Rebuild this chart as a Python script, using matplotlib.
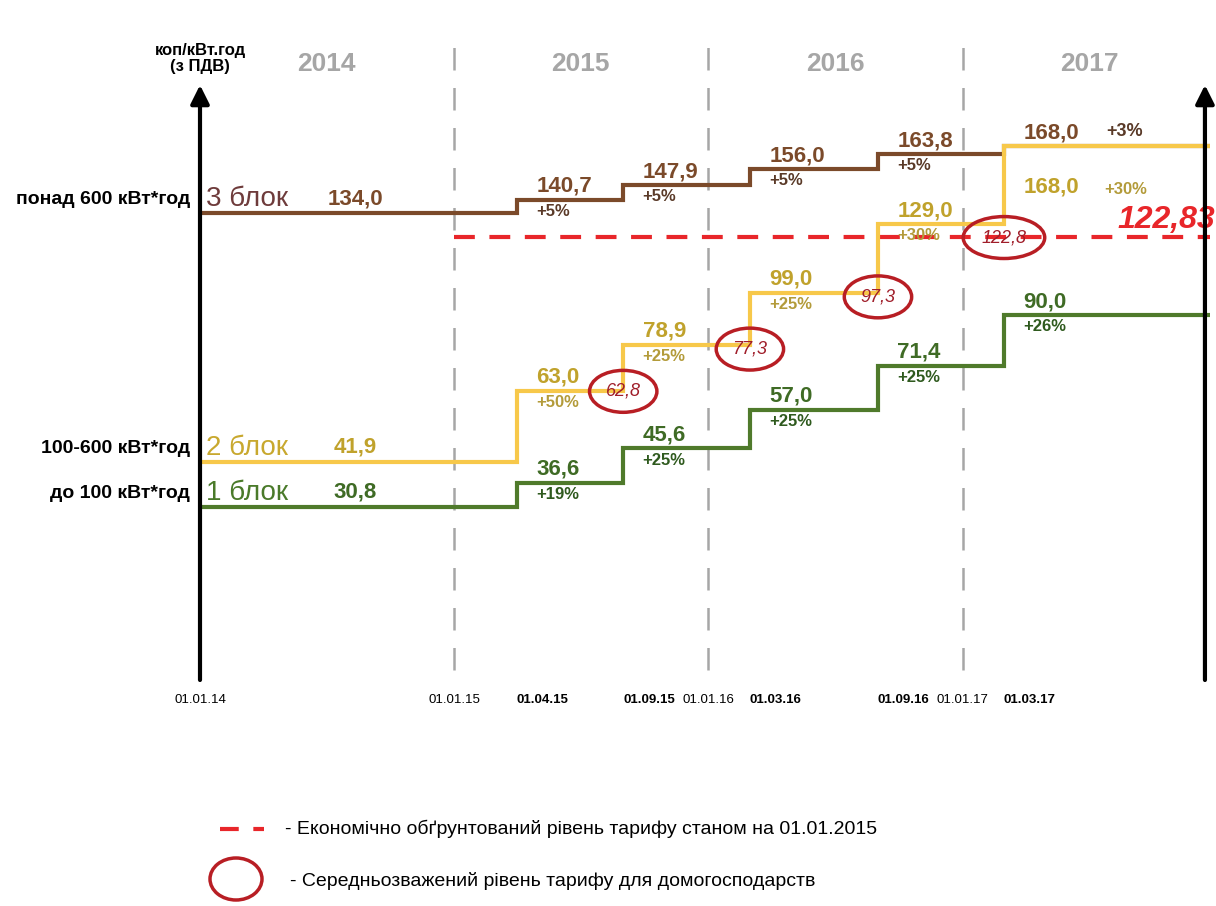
import matplotlib
matplotlib.use("Agg")
import numpy as np
import matplotlib.pyplot as plt
from matplotlib import font_manager
from matplotlib.patches import Ellipse
from datetime import date

installed = {f.name for f in font_manager.fontManager.ttflist}
narrow = "Liberation Sans Narrow" if "Liberation Sans Narrow" in installed else "Liberation Sans"
plt.rcParams["font.family"] = [narrow, "DejaVu Sans"]

# tariff change dates and the tariff (kop/kWh incl. VAT) for each consumption block
change_dates = [date(2014, 1, 1), date(2015, 4, 1), date(2015, 9, 1),
                date(2016, 3, 1), date(2016, 9, 1), date(2017, 3, 1)]
end_date = date(2017, 12, 22)

block1 = [30.8, 36.6, 45.6, 57.0, 71.4, 90.0]
block2 = [41.9, 63.0, 78.9, 99.0, 129.0, 168.0]
block3 = [134.0, 140.7, 147.9, 156.0, 163.8, 168.0]
growth1 = ["", "+19%", "+25%", "+25%", "+25%", "+26%"]
growth2 = ["", "+50%", "+25%", "+25%", "+30%", "+30%"]
growth3 = ["", "+5%", "+5%", "+5%", "+5%", "+3%"]

block_names = ["1 блок", "2 блок", "3 блок"]
volume_names = ["до 100 кВт*год", "100-600 кВт*год", "понад 600 кВт*год"]

# weighted average tariff for households
avg_dates = [date(2015, 9, 1), date(2016, 3, 1), date(2016, 9, 1), date(2017, 3, 1)]
avg_tariff = [62.8, 77.3, 97.3, 122.8]

# economically justified tariff as of 01.01.2015
justified_level = 122.83
justified_from = date(2015, 1, 1)

year_starts = [date(2015, 1, 1), date(2016, 1, 1), date(2017, 1, 1)]
years = ["2014", "2015", "2016", "2017"]
year_mids = [date(2014, 7, 2), date(2015, 7, 2), date(2016, 7, 2), date(2017, 7, 2)]

tick_dates = [date(2014, 1, 1), date(2015, 1, 1), date(2015, 4, 1), date(2015, 9, 1),
              date(2016, 1, 1), date(2016, 3, 1), date(2016, 9, 1), date(2017, 1, 1),
              date(2017, 3, 1)]
tick_labels = ["01.01.14", "01.01.15", "01.04.15", "01.09.15", "01.01.16",
               "01.03.16", "01.09.16", "01.01.17", "01.03.17"]


def fmt(v, digits=1):
    return f"{v:.{digits}f}".replace(".", ",")


fig = plt.figure(figsize=(12.16, 9.06), dpi=100)
ax = fig.add_axes([200 / 1216, 1 - 680 / 906, 1010 / 1216, 595 / 906])
ax.set_xlim(date(2014, 1, 1), end_date)
# square-root scale keeps the low tariffs apart while the top blocks still fit
ax.set_yscale("function", functions=(np.sqrt, np.square))
ax.set_ylim(4, 202)
for s in ax.spines.values():
    s.set_visible(False)
ax.set_yticks([])
ax.minorticks_off()

# year separators
for d in year_starts:
    ax.axvline(d, ymin=0.017, ymax=1.076, color="#a6a6a6", lw=1.8,
               dashes=(9, 7), clip_on=False, zorder=1)
for d, y in zip(year_mids, years):
    ax.text(d, 1.035, y, transform=ax.get_xaxis_transform(), ha="center", va="center",
            fontsize=19, fontweight="bold", color="#a6a6a6")

# justified tariff level
ax.plot([justified_from, end_date], [justified_level, justified_level], color="#e8262a",
        lw=3, dashes=(5, 3.5), zorder=2, clip_on=False)
ax.annotate(fmt(justified_level, 2), xy=(end_date, justified_level), xytext=(4, 2),
            textcoords="offset points", ha="right", va="bottom", fontsize=23,
            fontweight="bold", fontstyle="italic", color="#e8262a")

blocks = [
    (block1, growth1, "#4f7a2b", "#3f6b25", "#2f5a1e"),
    (block3, growth3, "#7b4a2a", "#7b4a2a", "#5a3a28"),
    (block2, growth2, "#f7c84a", "#c0a22c", "#b39b3a"),
]
name_colors = {0: "#4a7a2a", 1: "#c8a82e", 2: "#6e3b3b"}
order = [0, 2, 1]

for (values, growth, line_c, text_c, pct_c), idx in zip(blocks, order):
    xs = change_dates + [end_date]
    ys = values + [values[-1]]
    ax.step(xs, ys, where="post", color=line_c, lw=3, zorder=3, solid_joinstyle="miter")

    # block name and first value
    ax.annotate(block_names[idx], xy=(change_dates[0], values[0]), xytext=(4, 1),
                textcoords="offset points", ha="left", va="bottom", fontsize=20,
                color=name_colors[idx])
    ax.annotate(fmt(values[0]), xy=(change_dates[0], values[0]), xytext=(112, 3),
                textcoords="offset points", ha="center", va="bottom", fontsize=16,
                fontweight="bold", color=text_c)
    ax.annotate(volume_names[idx], xy=(change_dates[0], values[0]), xytext=(-7, 10),
                textcoords="offset points", ha="right", va="center", fontsize=14,
                fontweight="bold", color="black")

    for i in range(1, len(values)):
        last = i == len(values) - 1
        if last and idx == 1:
            # block 2 shares the top level with block 3, so its labels sit below the line
            ax.annotate(fmt(values[i]), xy=(change_dates[i], values[i]), xytext=(14, -22),
                        textcoords="offset points", ha="left", va="top", fontsize=16,
                        fontweight="bold", color=text_c)
            ax.annotate(growth[i], xy=(change_dates[i], values[i]), xytext=(72, -26),
                        textcoords="offset points", ha="left", va="top", fontsize=12,
                        fontweight="bold", color=pct_c)
            continue
        ax.annotate(fmt(values[i]), xy=(change_dates[i], values[i]), xytext=(14, 2),
                    textcoords="offset points", ha="left", va="bottom", fontsize=16,
                    fontweight="bold", color=text_c)
        if last and idx == 2:
            ax.annotate(growth[i], xy=(change_dates[i], values[i]), xytext=(74, 4),
                        textcoords="offset points", ha="left", va="bottom", fontsize=13,
                        fontweight="bold", color=pct_c)
        else:
            ax.annotate(growth[i], xy=(change_dates[i], values[i]), xytext=(14, -3),
                        textcoords="offset points", ha="left", va="top", fontsize=12,
                        fontweight="bold", color=pct_c)

# weighted average tariff markers
for d, v in zip(avg_dates, avg_tariff):
    ax.annotate(fmt(v), xy=(d, v), ha="center", va="center", fontsize=13,
                fontstyle="italic", color="#a01e2a", zorder=5,
                bbox=dict(boxstyle="ellipse,pad=0.35", fc="none", ec="#b81e24", lw=2.5))

# axis arrows
for xa in (0.0, 0.995):
    ax.annotate("", xy=(xa, 1.0), xycoords="axes fraction", xytext=(xa, 0.0),
                arrowprops=dict(arrowstyle="-|>", color="black", lw=3, mutation_scale=28,
                                shrinkA=0, shrinkB=0))
ax.text(0.0, 1.045, "коп/кВт.год\n(з ПДВ)", transform=ax.transAxes, ha="center", va="center",
        fontsize=12, fontweight="bold", linespacing=1.05)

ax.set_xticks(tick_dates)
ax.set_xticklabels(tick_labels)
ax.tick_params(axis="x", length=0, pad=10, labelsize=9.5)
for d, lbl in zip(tick_dates, ax.get_xticklabels()):
    if d in change_dates[1:]:
        lbl.set_fontweight("bold")
        lbl.set_ha("left")

# legend
fig.add_artist(plt.Line2D([220 / 1216, 264 / 1216], [1 - 829 / 906] * 2, color="#e8262a",
                          lw=3, dashes=(4.5, 3.5), transform=fig.transFigure))
fig.text(285 / 1216, 1 - 829 / 906, "- Економічно обґрунтований рівень тарифу станом на 01.01.2015",
         ha="left", va="center", fontsize=14)
fig.add_artist(Ellipse((236 / 1216, 1 - 879 / 906), 52 / 1216, 42 / 906, fill=False,
                       ec="#b81e24", lw=2.5, transform=fig.transFigure))
fig.text(290 / 1216, 1 - 881 / 906, "- Середньозважений рівень тарифу для домогосподарств",
         ha="left", va="center", fontsize=14)

fig.savefig("out.png", dpi=100)
